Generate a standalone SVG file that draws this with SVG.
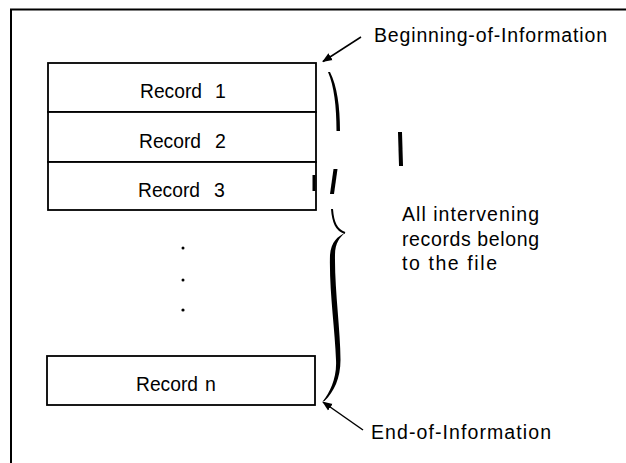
<svg xmlns="http://www.w3.org/2000/svg" width="626" height="463" viewBox="0 0 626 463">
<style>
.frame{fill:none;stroke:#000;stroke-width:2}
.box{fill:#fff;stroke:#000;stroke-width:1.8}
.rec{font-family:"Liberation Sans",Arial,sans-serif;font-size:19.5px;fill:#000}
.lbl{font-family:"Liberation Sans",Arial,sans-serif;font-size:19.5px;fill:#000}
.arrow{fill:none;stroke:#000;stroke-width:1.5}
.ink{fill:#000;stroke:none}
</style>
<defs>
<marker id="ah" viewBox="0 0 10 10" refX="9" refY="5" markerWidth="10" markerHeight="10" markerUnits="userSpaceOnUse" orient="auto">
<path d="M0,1 L10,5 L0,9 Z" fill="#000"/>
</marker>
</defs>
<rect width="626" height="463" fill="#fff"/>
<path class="frame" d="M11,463 L11,9.5 L626,9.5"/>
<g id="record1">
<rect class="box" x="48" y="63" width="268" height="49"/>
<text class="rec" x="140" y="98"><tspan textLength="62" lengthAdjust="spacingAndGlyphs">Record</tspan><tspan x="215">1</tspan></text>
</g>
<g id="record2">
<rect class="box" x="48" y="112" width="268" height="50"/>
<text class="rec" x="139" y="147.5"><tspan textLength="62" lengthAdjust="spacingAndGlyphs">Record</tspan><tspan x="215">2</tspan></text>
</g>
<g id="record3">
<rect class="box" x="48" y="162" width="268" height="48"/>
<text class="rec" x="138" y="196.5"><tspan textLength="62" lengthAdjust="spacingAndGlyphs">Record</tspan><tspan x="214">3</tspan></text>
<path class="ink" d="M312.5,175 L315.5,175 L315.5,191 L312.5,191 Z"/>
</g>
<g id="ellipsis">
<circle class="ink" cx="183" cy="248" r="1.5"/>
<circle class="ink" cx="183" cy="280" r="1.5"/>
<circle class="ink" cx="183" cy="310" r="1.6"/>
</g>
<g id="recordn">
<rect class="box" x="47" y="356" width="268" height="49"/>
<text class="rec" x="136" y="391"><tspan textLength="62" lengthAdjust="spacingAndGlyphs">Record</tspan><tspan x="205">n</tspan></text>
</g>
<g id="brace">
<path class="ink" d="M328,72 C334,86 336.5,106 336.5,131 L340,131 C340,106 337,86 330,72 Z"/>
<path class="ink" d="M333.5,169 L337.5,169 L334,194 L330,194 Z"/>
<path d="M332,209 C333,222 336,230 345,233" fill="none" stroke="#000" stroke-width="2"/>
<path class="ink" d="M345,233 C338,236 331,242 330,255 C329,290 335,330 336,360 C337,378 330,392 323,401 L324.5,401 C334,392 340.5,378 340.5,360 C340.5,330 334.5,290 335,255 C335,243 340,237 345,233 Z"/>
<path class="ink" d="M398,132 L402,132 L403,166 L399,166 Z"/>
</g>
<g id="connectors">
<line class="arrow" x1="361" y1="37" x2="323" y2="61.5" marker-end="url(#ah)"/>
<line class="arrow" x1="363" y1="430" x2="323" y2="402" marker-end="url(#ah)"/>
</g>
<g id="labels">
<text class="lbl" x="374" y="42" textLength="233" lengthAdjust="spacing">Beginning-of-Information</text>
<text class="lbl" x="402" y="221" textLength="137" lengthAdjust="spacing">All intervening</text>
<text class="lbl" x="402" y="246" textLength="137" lengthAdjust="spacing">records belong</text>
<text class="lbl" x="402" y="270" textLength="95" lengthAdjust="spacing">to the file</text>
<text class="lbl" x="371" y="439" textLength="180" lengthAdjust="spacing">End-of-Information</text>
</g>
</svg>
